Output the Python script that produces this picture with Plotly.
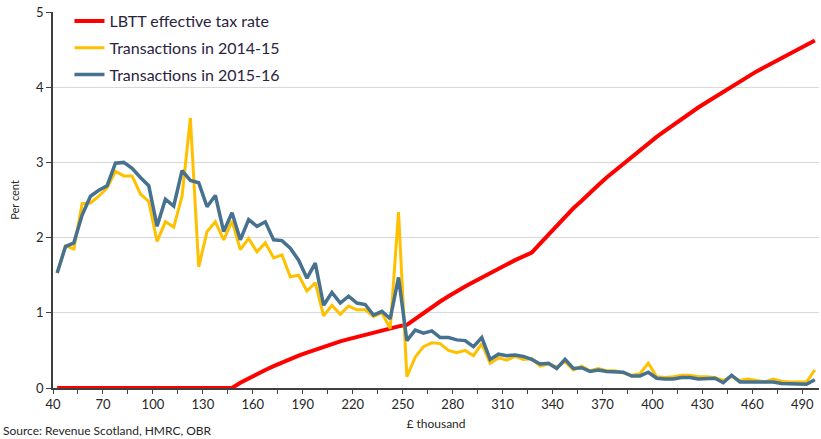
import plotly.graph_objects as go

# Categories: house price, £ thousand (5k bins)
price = list(range(40, 500, 5))

# LBTT effective tax rate (per cent)
lbtt_rate = [0.0] * 22 + [
    0.07, 0.13, 0.19, 0.24, 0.29, 0.34, 0.39, 0.43, 0.47, 0.51,
    0.55, 0.59, 0.62, 0.65, 0.68, 0.71, 0.74, 0.77, 0.79, 0.82,
    0.84, 0.92, 1.00, 1.08, 1.15, 1.22, 1.29, 1.35, 1.41, 1.47,
    1.53, 1.59, 1.65, 1.70, 1.75, 1.80, 1.92, 2.04, 2.16, 2.28,
    2.39, 2.49, 2.60, 2.70, 2.80, 2.89, 2.99, 3.08, 3.17, 3.25,
    3.34, 3.42, 3.50, 3.58, 3.65, 3.73, 3.80, 3.87, 3.94, 4.01,
    4.08, 4.14, 4.21, 4.27, 4.33, 4.39, 4.45, 4.51, 4.56, 4.62,
]

tx_2014_15 = [
    1.53, 1.89, 1.85, 2.45, 2.46, 2.55, 2.66, 2.88, 2.82, 2.82,
    2.58, 2.48, 1.95, 2.21, 2.14, 2.55, 3.59, 1.61, 2.08, 2.21,
    1.97, 2.22, 1.84, 1.99, 1.81, 1.93, 1.73, 1.77, 1.48, 1.50,
    1.29, 1.40, 0.96, 1.10, 0.98, 1.09, 1.04, 1.04, 0.95, 1.00,
    0.79, 2.34, 0.15, 0.41, 0.55, 0.60, 0.59, 0.50, 0.47, 0.50,
    0.43, 0.59, 0.33, 0.40, 0.37, 0.42, 0.38, 0.39, 0.29, 0.32,
    0.28, 0.35, 0.24, 0.29, 0.23, 0.26, 0.23, 0.23, 0.20, 0.17,
    0.19, 0.33, 0.15, 0.14, 0.15, 0.17, 0.17, 0.15, 0.15, 0.14,
    0.10, 0.15, 0.10, 0.12, 0.10, 0.08, 0.12, 0.09, 0.08, 0.08,
    0.08, 0.24,
]

tx_2015_16 = [
    1.53, 1.88, 1.93, 2.30, 2.55, 2.63, 2.69, 2.99, 3.00, 2.92,
    2.80, 2.69, 2.15, 2.51, 2.42, 2.89, 2.76, 2.73, 2.41, 2.56,
    2.08, 2.33, 1.97, 2.24, 2.15, 2.21, 1.97, 1.96, 1.86, 1.70,
    1.46, 1.66, 1.10, 1.27, 1.13, 1.22, 1.13, 1.11, 0.97, 1.02,
    0.92, 1.47, 0.63, 0.77, 0.73, 0.76, 0.67, 0.67, 0.64, 0.63,
    0.55, 0.67, 0.38, 0.45, 0.43, 0.44, 0.42, 0.38, 0.32, 0.33,
    0.26, 0.38, 0.26, 0.27, 0.22, 0.24, 0.22, 0.21, 0.21, 0.16,
    0.16, 0.21, 0.13, 0.12, 0.12, 0.14, 0.14, 0.12, 0.12, 0.13,
    0.07, 0.17, 0.08, 0.08, 0.08, 0.09, 0.08, 0.06, 0.06, 0.05,
    0.05, 0.11,
]

x_tick_labels = [str(v) for v in range(40, 500, 30)]
y_tick_vals = [0, 1, 2, 3, 4, 5]

# tick marks at category boundaries every 3 bins, label every 6 bins
x_tick_pos = [37.5 + 15 * k for k in range(31)]
x_tick_text = [x_tick_labels[k // 2] if k % 2 == 0 else "" for k in range(31)]

FONT = "Lato"
TXT = "#262626"

fig = go.Figure()
fig.add_trace(go.Scatter(x=price, y=lbtt_rate, mode="lines",
                         name="LBTT effective tax rate", legendgroup="a",
                         line=dict(color="#FF0000", width=4)))
fig.add_trace(go.Scatter(x=price, y=tx_2014_15, mode="lines",
                         name="Transactions in 2014-15", legendgroup="b",
                         line=dict(color="#FFC000", width=3)))
fig.add_trace(go.Scatter(x=price, y=tx_2015_16, mode="lines",
                         name="Transactions in 2015-16", legendgroup="c",
                         line=dict(color="#46728F", width=3.5)))

fig.update_layout(
    width=821, height=439,
    margin=dict(l=53, r=2, t=12, b=51),
    paper_bgcolor="white", plot_bgcolor="white",
    font=dict(family=FONT, color=TXT, size=13),
    showlegend=True,
    legend=dict(x=0.0215, y=1.021, xanchor="left", yanchor="top",
                bgcolor="rgba(0,0,0,0)", font=dict(size=16, color="#2A2340"),
                traceorder="grouped", tracegroupgap=3, itemwidth=30),
    xaxis=dict(range=[37.5, 497.5], tickmode="array", tickvals=x_tick_pos,
               ticktext=x_tick_text, ticks="outside", ticklen=4,
               tickcolor="#404040", tickwidth=1.2, showgrid=False,
               showline=True, linecolor="#404040", linewidth=1.5,
               zeroline=False, tickfont=dict(size=13), automargin=False,
               title=dict(text="£ thousand", font=dict(size=12), standoff=8)),
    yaxis=dict(range=[0, 5], tickmode="array", tickvals=y_tick_vals,
               ticks="outside", ticklen=5, tickcolor="#404040", tickwidth=1.2,
               showgrid=True, gridcolor="#D9D9D9", gridwidth=1,
               showline=True, linecolor="#404040", linewidth=1.5,
               zeroline=False, tickfont=dict(size=13), automargin=False,
               title=dict(text="Per cent", font=dict(size=11), standoff=14)),
    annotations=[dict(text="Source: Revenue Scotland, HMRC, OBR",
                      xref="paper", yref="paper", x=-0.0675, y=-0.113,
                      xanchor="left", yanchor="middle", showarrow=False,
                      font=dict(size=12, color=TXT))],
)

fig.write_html("out.html", config={"displayModeBar": False},
               post_script="document.body.style.margin='0';")
